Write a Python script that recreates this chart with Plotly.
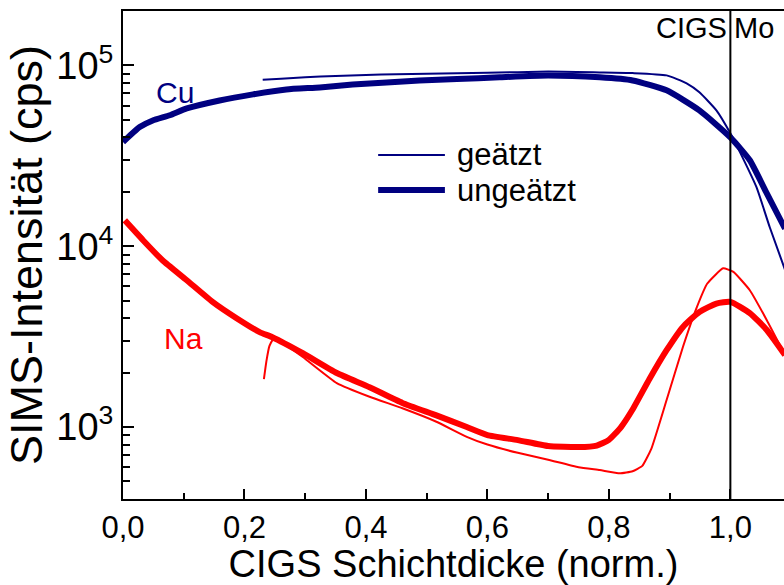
import plotly.graph_objects as go

# ---- data ----
cu_u_x = [0, 0.0275, 0.049, 0.077, 0.105, 0.159, 0.214, 0.269, 0.324, 0.378, 0.434, 0.488,
          0.55, 0.62, 0.70, 0.785, 0.839, 0.895, 0.949, 1.0, 1.032, 1.06, 1.09]
cu_u_y = [3.77e4, 4.56e4, 4.96e4, 5.3e4, 5.78e4, 6.4e4, 6.92e4, 7.36e4, 7.56e4, 7.85e4, 8.05e4, 8.26e4,
          8.4e4, 8.6e4, 8.8e4, 8.59e4, 8.26e4, 7.28e4, 5.64e4, 4.0e4, 2.99e4, 1.96e4, 1.25e4]

cu_g_x = [0.230, 0.26, 0.30, 0.35, 0.40, 0.45, 0.50, 0.60, 0.70, 0.785, 0.839, 0.895, 0.928,
          0.949, 0.977, 1.0, 1.02, 1.043, 1.065, 1.09]
cu_g_y = [8.34e4, 8.45e4, 8.6e4, 8.75e4, 8.85e4, 8.95e4, 9.0e4, 9.1e4, 9.25e4, 9.15e4, 9.07e4, 8.81e4, 7.96e4,
          7.1e4, 5.64e4, 4.21e4, 3.1e4, 2.12e4, 1.27e4, 7.4e3]

na_u_x = [0.003, 0.033, 0.065, 0.105, 0.148, 0.187, 0.225, 0.246, 0.296, 0.352, 0.406, 0.460, 0.516,
          0.566, 0.60, 0.65, 0.70, 0.75, 0.78, 0.80, 0.82, 0.839, 0.867, 0.895, 0.922, 0.949, 0.977,
          1.0, 1.032, 1.06, 1.09]
na_u_y = [1.39e4, 1.08e4, 8.37e3, 6.49e3, 4.91e3, 4.0e3, 3.35e3, 3.14e3, 2.56e3, 1.99e3, 1.66e3, 1.36e3, 1.16e3,
          1.0e3, 903, 847, 785, 775, 790, 850, 1.0e3, 1.25e3, 1.85e3, 2.66e3, 3.58e3, 4.33e3, 4.82e3,
          4.92e3, 4.27e3, 3.44e3, 2.5e3]

na_g_x = [0.232, 0.236, 0.241, 0.247, 0.26, 0.296, 0.352, 0.406, 0.460, 0.516, 0.566, 0.60, 0.65,
          0.70, 0.75, 0.785, 0.818, 0.839, 0.855, 0.870, 0.895, 0.922, 0.945, 0.962, 0.988, 1.005,
          1.032, 1.06, 1.09]
na_g_y = [1.84e3, 2.3e3, 2.8e3, 3.05e3, 2.95e3, 2.44e3, 1.75e3, 1.47e3, 1.27e3, 1.07e3, 883, 800, 720,
          660, 600, 578, 555, 570, 610, 760, 1.41e3, 2.78e3, 4.62e3, 6.22e3, 7.55e3, 7.21e3,
          5.71e3, 3.9e3, 2.5e3]

x_ticks = [0, 0.2, 0.4, 0.6, 0.8, 1.0]
x_minor = [0.1, 0.3, 0.5, 0.7, 0.9]
y_major = [1e3, 1e4, 1e5]
y_major_text = ["10<sup>3</sup>", "10<sup>4</sup>", "10<sup>5</sup>"]
y_minor = [m * 10 ** e for e in (2, 3, 4, 5) for m in range(2, 10)]
boundary_x = 1.0
legend_labels = ["geätzt", "ungeätzt"]

NAVY = "#000080"
RED = "#ff0000"
FONT = "Liberation Sans, Arial, sans-serif"

fig = go.Figure()
fig.add_trace(go.Scatter(x=cu_g_x, y=cu_g_y, mode="lines", name="Cu geätzt",
                         line=dict(color=NAVY, width=2, shape="spline", smoothing=0.5)))
fig.add_trace(go.Scatter(x=cu_u_x, y=cu_u_y, mode="lines", name="Cu ungeätzt",
                         line=dict(color=NAVY, width=6, shape="spline", smoothing=0.5)))
fig.add_trace(go.Scatter(x=na_g_x, y=na_g_y, mode="lines", name="Na geätzt",
                         line=dict(color=RED, width=2, shape="spline", smoothing=0.4)))
fig.add_trace(go.Scatter(x=na_u_x, y=na_u_y, mode="lines", name="Na ungeätzt",
                         line=dict(color=RED, width=6, shape="spline", smoothing=0.5)))

# boundary line CIGS | Mo
fig.add_shape(type="line", xref="x", yref="paper", x0=boundary_x, x1=boundary_x, y0=0, y1=1,
              line=dict(color="black", width=2))

# custom legend (long sample lines as in the reference)
leg_rows = [(0.705, 2), (0.633, 6)]
for (ly, lw), lab in zip(leg_rows, legend_labels):
    fig.add_shape(type="line", xref="paper", yref="paper", x0=0.386, x1=0.487, y0=ly, y1=ly,
                  line=dict(color=NAVY, width=lw))
    fig.add_annotation(x=0.502, y=ly, xref="paper", yref="paper", text=lab, showarrow=False,
                       xanchor="left", yanchor="middle",
                       font=dict(color="black", size=31, family=FONT))

fig.add_annotation(x=0.085, y=4.85, xref="x", yref="y", text="Cu", showarrow=False,
                   font=dict(color=NAVY, size=30, family=FONT))
fig.add_annotation(x=0.099, y=3.49, xref="x", yref="y", text="Na", showarrow=False,
                   font=dict(color=RED, size=30, family=FONT))
fig.add_annotation(x=boundary_x, y=1, xref="x", yref="paper", text="CIGS", showarrow=False,
                   xanchor="right", yanchor="top", xshift=-1, yshift=1,
                   font=dict(color="black", size=29, family=FONT))
fig.add_annotation(x=boundary_x, y=1, xref="x", yref="paper", text="Mo", showarrow=False,
                   xanchor="left", yanchor="top", xshift=2, yshift=1,
                   font=dict(color="black", size=29, family=FONT))

fig.update_layout(
    width=784, height=585,
    margin=dict(l=123, r=0, t=11, b=86),
    paper_bgcolor="white", plot_bgcolor="white",
    separators=",.",
    showlegend=False,
    font=dict(family=FONT, color="black"),
    xaxis=dict(range=[0, 1.0883], tickvals=x_ticks, tickformat=".1f",
               ticks="inside", ticklen=10, tickwidth=1.5, tickcolor="black",
               showline=True, linecolor="black", linewidth=2, mirror=True,
               showgrid=False, zeroline=False,
               minor=dict(tickvals=x_minor, ticks="inside", ticklen=6,
                          tickwidth=1.5, tickcolor="black", showgrid=False),
               tickfont=dict(size=31, family=FONT),
               title=dict(text="CIGS Schichtdicke (norm.)", font=dict(size=38, family=FONT),
                          standoff=7)),
    yaxis=dict(type="log", range=[2.60206, 5.30103], tickvals=y_major, ticktext=y_major_text,
               ticks="inside", ticklen=11, tickwidth=1.5, tickcolor="black",
               showline=True, linecolor="black", linewidth=2, mirror=False,
               showgrid=False, zeroline=False,
               minor=dict(tickvals=y_minor, ticks="inside", ticklen=7,
                          tickwidth=1.5, tickcolor="black", showgrid=False),
               tickfont=dict(size=38, family=FONT),
               title=dict(text="SIMS-Intensität (cps)", font=dict(size=45, family=FONT),
                          standoff=0)),
)

fig.write_html("out.html")
